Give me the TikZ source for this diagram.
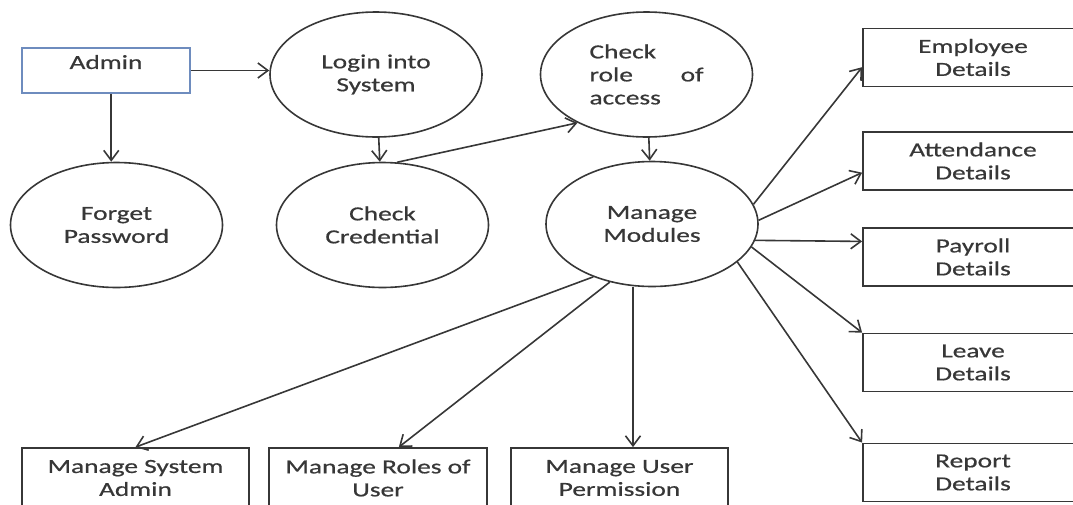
\documentclass[tikz,border=0pt]{standalone}
\usepackage{fontspec}
\setmainfont{Carlito}[FakeStretch=1.37,FakeBold=0.6]
\usetikzlibrary{shapes.geometric,arrows.meta,calc}
\definecolor{inkgray}{RGB}{55,55,55}
\definecolor{adminblue}{RGB}{110,140,190}

\begin{document}
\begin{tikzpicture}
  [x=1pt, y=-1pt,
   every node/.style={font=\fontsize{20}{23}\selectfont, text=inkgray, align=center},
   proc/.style={ellipse, draw=inkgray, line width=1.6pt, minimum width=212pt, minimum height=125pt},
   detail/.style={rectangle, draw=inkgray, line width=1.8pt, minimum width=220pt, minimum height=58pt},
   task/.style={rectangle, draw=inkgray, line width=1.8pt, minimum height=60pt},
   arr/.style={draw=inkgray, line width=1.6pt, -{Straight Barb[length=10pt,width=15pt]}}]
  \useasboundingbox (0,0) rectangle (1073,504);
  \clip (0,0) rectangle (1073,504);

  \node[draw=adminblue, line width=1.6pt, minimum width=168pt, minimum height=45pt, text depth=17pt] (admin) at (106,70.5) {Admin};
  \node[proc] (login) at (376,74.5) {Login into\\System};
  \node[proc, text width=114pt, align=left] (role) at (646.5,74.5) {Check\\role\hspace{\fill}of\\access};
  \node[proc] (forget) at (116.5,225) {Forget\\Password};
  \node[proc] (cred) at (382.5,225) {Check\\Credential};
  \node[proc] (mm) at (652,224) {Manage\\Modules};

  % module details
  \node[detail] (emp) at (973,57.5) {Employee\\Details};
  \node[detail] (att) at (973,161) {Attendance\\Details};
  \node[detail] (pay) at (973,257) {Payroll\\Details};
  \node[detail] (leave) at (973,362.5) {Leave\\Details};
  \node[detail] (rep) at (973,472.5) {Report\\Details};

  % admin tasks
  \node[task, minimum width=227pt] (sysadm) at (135.5,478) {Manage System\\Admin};
  \node[task, minimum width=218pt] (roles) at (378,478) {Manage Roles of\\User};
  \node[task, minimum width=217pt] (perm) at (619.5,478) {Manage User\\Permission};

  \coordinate (mid) at ($(admin.south)!.5!(forget.north)$);
  \draw[arr] (admin.east) -- (admin.east -| login.west);
  \draw[arr] (admin.south -| mid) -- (forget.north -| mid);
  \draw[arr] (login) -- (cred);
  \draw[arr] (cred.77) -- (role.215);
  \draw[arr] (role) -- (mm);
  \draw[arr] (mm.11) -- (emp.185);
  \draw[arr] (mm.2) -- (att.186);
  \draw[arr] (mm.-9) -- (pay.172);
  \draw[arr] (mm.-13) -- (leave.north west);
  \draw[arr] (mm.-24) -- (rep.north west);
  \draw[arr] (mm.222) -- (sysadm.north);
  \draw[arr] (mm.234) -- (roles.56);
  \draw[arr] ([xshift=-19pt]mm.south) -- ([xshift=13.5pt]perm.north);
\end{tikzpicture}
\end{document}
